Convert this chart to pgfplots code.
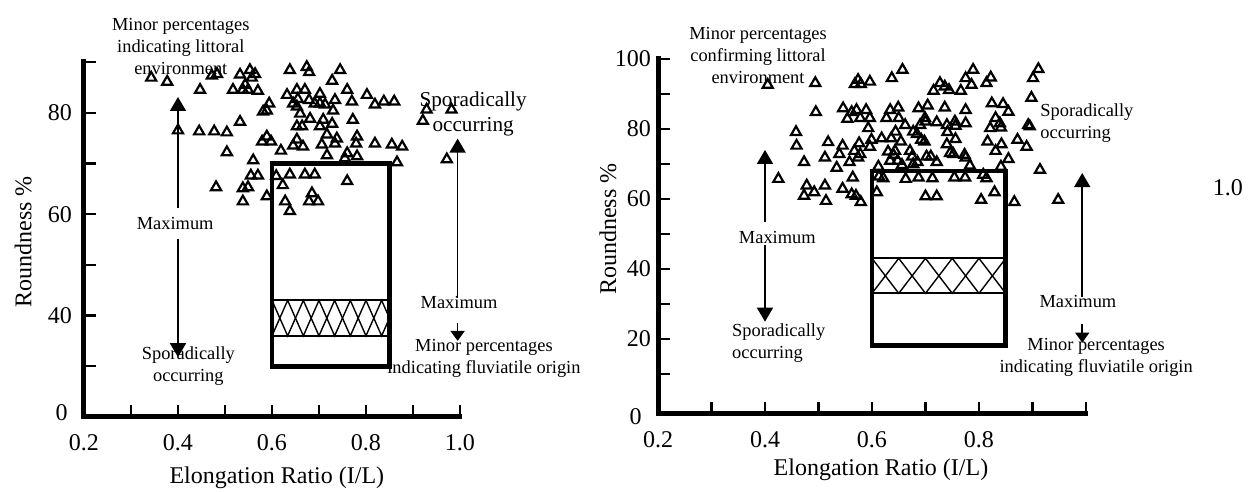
\documentclass[border=0pt]{standalone}
\usepackage{fontspec}
\setmainfont{Liberation Serif}
\usepackage{pgfplots}
\pgfplotsset{compat=1.18}
\usetikzlibrary{arrows.meta}

\pgfplotsset{
  panel/.style={
    scale only axis,
    axis x line*=bottom, axis y line*=left,
    axis line style={line width=2.5pt, line cap=rect},
    tick align=inside,
    major tick length=6pt,
    tick style={black, line width=1.2pt},
    clip=false,
    /pgf/number format/assume math mode=true,
    ticklabel style={font=\fontsize{12}{13.5}\selectfont},
    xticklabel style={yshift=-5pt},
    label style={font=\fontsize{12}{14}\selectfont},
  },
  tri/.style={only marks, mark=triangle, mark size=2.9pt,
    mark options={line width=1.1pt, black}},
  box/.style={black, line width=2.3pt, line join=miter, mark=none},
  hat/.style={black, line width=0.7pt, mark=none},
  arr/.style={black, line width=0.8pt, mark=none, -{Triangle[width=8pt,length=7pt]}},
  sarr/.style={black, line width=0.8pt, mark=none, -{Triangle[width=7pt,length=5pt]}},
}
\tikzset{ann/.style={font=\fontsize{9.2}{11}\selectfont, align=center, inner sep=0pt}}

\begin{document}
\begin{tikzpicture}
\useasboundingbox (0,0) rectangle (629pt,246pt);

% left panel
\begin{axis}[panel, at={(42pt,37.5pt)}, anchor=south west,
  width=188pt, height=177.5pt,
  xmin=0.2, xmax=1.0, ymin=20, ymax=90,
  xtick={0.2,0.3,0.4,0.5,0.6,0.7,0.8,0.9,1.0},
  xticklabels={0.2,,0.4,,0.6,,0.8,,1.0},
  ytick={30,40,50,60,70,80,90},
  yticklabels={,40,,60,,80,},
  yticklabel style={xshift=-2.5pt},
  xlabel={Elongation Ratio (I/L)}, ylabel={Roundness \%},
  xlabel style={at={(axis description cs:0.513,-0.172)}, anchor=center},
  ylabel style={at={(axis description cs:-0.162,0.493)}, anchor=center},
]
\addplot[tri] coordinates {
(0.343,86.9) (0.377,86.1) (0.447,84.5) (0.472,87.3) (0.483,87.6) (0.532,87.5)
(0.553,88.4) (0.564,87.6) (0.557,86.9) (0.638,88.4) (0.517,84.5) (0.543,85.5)
(0.538,84.5) (0.549,84.5) (0.570,84.3) (0.632,83.5) (0.653,84.5) (0.645,81.8)
(0.653,81.2) (0.594,81.8) (0.581,80.2) (0.589,80.4) (0.532,78.2) (0.400,76.5)
(0.445,76.3) (0.477,76.3) (0.504,76.1) (0.653,77.3) (0.504,72.2) (0.589,75.3)
(0.579,74.3) (0.598,74.3) (0.619,72.5) (0.645,73.5) (0.653,74.7) (0.560,70.6)
(0.555,67.6) (0.570,67.6) (0.481,65.3) (0.538,65.1) (0.549,65.3) (0.538,62.5)
(0.589,63.5) (0.609,67.5) (0.638,67.8) (0.623,65.7) (0.628,62.5) (0.638,60.6)
(0.674,89.0) (0.679,88.0) (0.745,88.4) (0.728,86.3) (0.670,84.5) (0.702,83.7)
(0.655,82.7) (0.679,82.5) (0.691,81.8) (0.702,81.8) (0.713,81.6) (0.734,82.5)
(0.760,84.5) (0.770,82.2) (0.802,83.5) (0.819,81.6) (0.838,82.2) (0.860,82.2)
(0.660,79.8) (0.730,80.4) (0.664,77.3) (0.681,78.8) (0.702,77.3) (0.709,78.6)
(0.728,77.8) (0.772,78.6) (0.666,73.3) (0.706,73.7) (0.717,75.7) (0.734,73.9)
(0.738,74.9) (0.781,75.3) (0.779,73.9) (0.819,73.9) (0.855,73.7) (0.877,73.3)
(0.717,71.6) (0.755,71.0) (0.760,72.0) (0.781,71.4) (0.866,70.2) (0.972,70.8)
(0.670,67.8) (0.691,67.8) (0.760,66.5) (0.679,62.5) (0.685,64.1) (0.698,62.5)
(0.929,80.6) (0.982,80.6) (0.921,78.4)
};
\addplot[box] coordinates {(0.6,30) (0.85,30) (0.85,70) (0.6,70)} -- cycle;
\addplot[hat, line width=1pt] coordinates {(0.6,43) (0.85,43)};
\addplot[hat, line width=1pt] coordinates {(0.6,36) (0.85,36)};
\addplot[hat] coordinates {(0.6,43) (0.6333,36) (0.6667,43) (0.7,36) (0.7333,43)
  (0.7667,36) (0.8,43) (0.8333,36) (0.85,39.5)};
\addplot[hat] coordinates {(0.6,36) (0.6333,43) (0.6667,36) (0.7,43) (0.7333,36)
  (0.7667,43) (0.8,36) (0.8333,43) (0.85,39.5)};
\addplot[arr] coordinates {(0.4,61.2) (0.4,83.1)};
\addplot[arr] coordinates {(0.4,55.1) (0.4,31.8)};
\addplot[arr] coordinates {(0.995,43.5) (0.995,74.9)};
\addplot[sarr] coordinates {(0.995,38.5) (0.995,35.0)};
\node[ann] at (axis cs:0.406,93.1) {Minor percentages\\indicating littoral\\environment};
\node[ann] at (axis cs:0.394,58.2) {Maximum};
\node[ann] at (axis cs:0.422,30.0) {Sporadically\\occurring};
\node[ann, font=\fontsize{10.6}{12.5}\selectfont] at (axis cs:1.028,79.7) {Sporadically\\occurring};
\node[ann] at (axis cs:0.998,42.5) {Maximum};
\node[ann] at (axis cs:1.051,31.6) {Minor percentages\\indicating fluviatile origin};
\node[font=\fontsize{12}{13.5}\selectfont, anchor=east, inner sep=0pt] at (axis cs:0.166,20.8) {0};
\end{axis}

% right panel
\begin{axis}[panel, at={(329pt,39pt)}, anchor=south west,
  width=214pt, height=177.5pt,
  xmin=0.2, xmax=1.0, ymin=-1.5, ymax=100,
  xtick={0.2,0.3,0.4,0.5,0.6,0.7,0.8,0.9,1.0},
  xticklabels={0.2,,0.4,,0.6,,0.8,,},
  ytick={10,20,30,40,50,60,70,80,90,100},
  yticklabels={,20,,40,,60,,80,,100},
  xlabel={Elongation Ratio (I/L)}, ylabel={Roundness \%},
  xlabel style={at={(axis description cs:0.521,-0.158)}, anchor=center},
  ylabel style={at={(axis description cs:-0.117,0.521)}, anchor=center},
]
\addplot[tri] coordinates {
(0.405,92.6) (0.494,93.1) (0.568,92.8) (0.574,94.0) (0.579,92.8) (0.596,93.5)
(0.495,84.8) (0.546,85.9) (0.554,82.9) (0.562,84.8) (0.571,85.4) (0.578,83.1)
(0.589,85.4) (0.596,83.1) (0.593,80.2) (0.458,79.1) (0.459,75.2) (0.518,76.2)
(0.545,75.2) (0.576,75.9) (0.599,76.9) (0.596,74.9) (0.567,73.7) (0.578,72.8)
(0.574,71.8) (0.539,72.8) (0.512,71.8) (0.473,70.5) (0.558,70.5) (0.534,68.9)
(0.425,65.7) (0.564,66.1) (0.478,63.8) (0.473,60.9) (0.492,61.9) (0.512,63.8)
(0.514,59.4) (0.545,62.9) (0.562,61.3) (0.570,60.9) (0.579,59.1)
(0.637,94.5) (0.727,93.1) (0.736,92.1) (0.744,91.1) (0.715,90.9) (0.766,90.9)
(0.775,94.5) (0.786,92.6) (0.814,93.1) (0.822,94.7) (0.901,94.5) (0.898,88.9)
(0.634,85.4) (0.649,86.1) (0.627,83.1) (0.650,83.1) (0.662,81.1) (0.687,85.9)
(0.704,86.7) (0.736,86.1) (0.775,85.4) (0.824,87.3) (0.845,87.1) (0.855,84.9)
(0.699,83.1) (0.700,82.1) (0.690,81.1) (0.721,81.9) (0.740,81.1) (0.755,82.1)
(0.756,80.9) (0.775,81.6) (0.831,83.1) (0.839,81.6) (0.841,80.4) (0.821,80.2)
(0.892,81.1) (0.895,80.7) (0.618,77.3) (0.636,77.3) (0.644,79.2) (0.654,76.4)
(0.677,79.2) (0.684,78.5) (0.692,76.9) (0.698,76.4) (0.741,79.1) (0.740,75.6)
(0.756,77.1) (0.816,76.4) (0.842,75.6) (0.872,76.9) (0.889,74.9) (0.630,73.5)
(0.643,73.7) (0.634,70.9) (0.648,70.9) (0.640,72.6) (0.671,73.7) (0.675,72.1)
(0.685,70.5) (0.702,72.1) (0.710,72.1) (0.721,70.5) (0.746,73.1) (0.752,72.8)
(0.773,72.6) (0.775,71.8) (0.831,73.7) (0.855,71.4) (0.783,69.5) (0.841,69.2)
(0.612,69.2) (0.613,66.4) (0.621,65.9) (0.656,69.7) (0.677,69.9) (0.663,65.7)
(0.687,66.1) (0.713,65.9) (0.754,66.1) (0.774,66.1) (0.808,66.9) (0.814,65.9)
(0.914,68.3) (0.609,61.9) (0.700,60.7) (0.721,60.7) (0.804,59.7) (0.829,61.9)
(0.866,59.1) (0.948,59.7) (0.657,96.9) (0.789,96.9) (0.911,97.1)
};
\addplot[box] coordinates {(0.6,18) (0.85,18) (0.85,68) (0.6,68)} -- cycle;
\addplot[hat, line width=1pt] coordinates {(0.6,43) (0.85,43)};
\addplot[hat, line width=1pt] coordinates {(0.6,33) (0.85,33)};
\addplot[hat] coordinates {(0.6,43) (0.65,33) (0.7,43) (0.75,33) (0.8,43) (0.85,33)};
\addplot[hat] coordinates {(0.6,33) (0.65,43) (0.7,33) (0.75,43) (0.8,33) (0.85,43)};
\addplot[arr] coordinates {(0.4,53.4) (0.4,74.0)};
\addplot[arr] coordinates {(0.4,46.9) (0.4,24.9)};
\addplot[arr] coordinates {(0.993,32.0) (0.993,67.4)};
\addplot[sarr] coordinates {(0.993,24.3) (0.993,18.9)};
\node[ann] at (axis cs:0.387,100.9) {Minor percentages\\confirming littoral\\environment};
\node[ann] at (axis cs:0.423,48.9) {Maximum};
\node[ann, anchor=west, align=left] at (axis cs:0.338,18.7) {Sporadically\\occurring};
\node[ann, anchor=west, align=left] at (axis cs:0.914,81.7) {Sporadically\\occurring};
\node[ann] at (axis cs:0.985,30.6) {Maximum};
\node[ann] at (axis cs:1.019,14.6) {Minor percentages\\indicating fluviatile origin};
\node[font=\fontsize{12}{13.5}\selectfont] at (axis cs:1.265,63.2) {1.0};
\node[font=\fontsize{12}{13.5}\selectfont, anchor=east, inner sep=0pt] at (axis cs:0.17,-2.3) {0};
\end{axis}
\end{tikzpicture}
\end{document}
